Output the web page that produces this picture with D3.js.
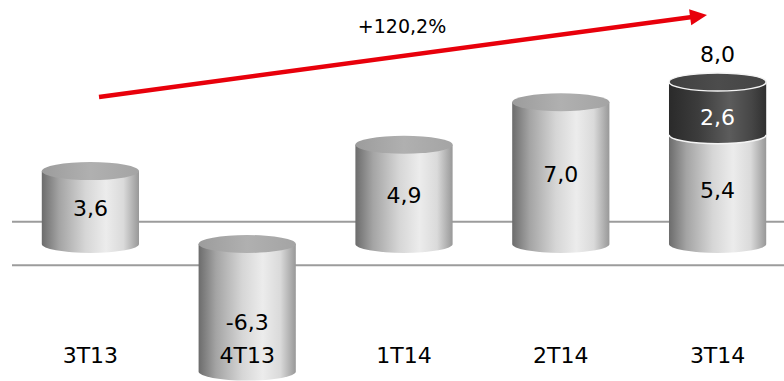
<!DOCTYPE html>
<html>
<head>
<meta charset="utf-8">
<script src="https://cdn.jsdelivr.net/npm/d3@7"></script>
<style>
  html, body { margin: 0; padding: 0; background: #ffffff; }
  svg { display: block; }
  text { font-family: "DejaVu Sans", Verdana, sans-serif; }
</style>
</head>
<body>
<svg id="chart" width="784" height="381"></svg>
<script>
// Quarterly results (R$ bn), 3T14 split into two components
const categories = ["3T13", "4T13", "1T14", "2T14", "3T14"];
const baseValues = [3.6, -6.3, 4.9, 7.0, 5.4];
const extraValues = [0, 0, 0, 0, 2.6];
const totalLabels = ["", "", "", "", "8,0"];
const growthLabel = "+120,2%";

// Brazilian number style: decimal comma, plain hyphen for negatives
const fmt = v => d3.format(".1f")(v).replace(".", ",").replace("\u2212", "-");

const W = 784, H = 381;
const svg = d3.select("#chart");
const defs = svg.append("defs");

const x = d3.scaleBand().domain(categories).range([12, 796])
  .paddingInner(0.38).paddingOuter(0.19);
const y = d3.scaleLinear().domain([0, 8]).range([244, 82]);
const rx = x.bandwidth() / 2;
const ry = 9;

// Cylinder shading
function hGrad(id, stops) {
  const g = defs.append("linearGradient").attr("id", id)
    .attr("x1", "0%").attr("x2", "100%").attr("y1", "0%").attr("y2", "0%");
  stops.forEach(([o, c]) => g.append("stop").attr("offset", o).attr("stop-color", c));
}
hGrad("bodyLight", [["0%", "#6c6c6c"], ["18%", "#a4a4a4"], ["45%", "#d6d6d6"], ["66%", "#ececec"], ["84%", "#dadada"], ["100%", "#989898"]]);
hGrad("topLight", [["0%", "#9c9c9c"], ["50%", "#b0b0b0"], ["100%", "#a4a4a4"]]);
hGrad("bodyDark", [["0%", "#2a2a2a"], ["30%", "#3c3c3c"], ["62%", "#5c5c5c"], ["85%", "#464646"], ["100%", "#303030"]]);
hGrad("topDark", [["0%", "#404040"], ["50%", "#4c4c4c"], ["100%", "#444444"]]);

// Horizontal rules behind the cylinders
const rules = [1.1, -1.05];
svg.selectAll("line.rule").data(rules).join("line")
  .attr("class", "rule")
  .attr("x1", 12).attr("x2", W)
  .attr("y1", d => y(d)).attr("y2", d => y(d))
  .attr("stroke", "#9c9c9c").attr("stroke-width", 2);

// Draw one cylinder segment between two values
function cylinder(g, cx, v0, v1, dark, drawTop) {
  const yTop = Math.min(y(v0), y(v1));
  const yBot = Math.max(y(v0), y(v1));
  const body = dark ? "url(#bodyDark)" : "url(#bodyLight)";
  g.append("path")
    .attr("d", `M${cx - rx},${yTop} L${cx - rx},${yBot} A${rx},${ry} 0 0 0 ${cx + rx},${yBot} L${cx + rx},${yTop} Z`)
    .attr("fill", body);
  if (drawTop) {
    g.append("ellipse").attr("cx", cx).attr("cy", yTop).attr("rx", rx).attr("ry", ry)
      .attr("fill", dark ? "url(#topDark)" : "url(#topLight)")
      .attr("stroke", dark ? "#f4f4f4" : "none").attr("stroke-width", dark ? 1.5 : 0);
  }
}

const bars = svg.append("g");
categories.forEach((c, i) => {
  const cx = x(c) + rx;
  const g = bars.append("g");
  const b = baseValues[i], e = extraValues[i];
  if (b < 0) {
    cylinder(g, cx, b, 0, false, true);
  } else {
    cylinder(g, cx, 0, b, false, e === 0);
    if (e > 0) {
      cylinder(g, cx, b, b + e, true, true);
      // seam between the two segments
      g.append("path")
        .attr("d", `M${cx - rx},${y(b)} A${rx},${ry} 0 0 0 ${cx + rx},${y(b)}`)
        .attr("fill", "none").attr("stroke", "#f4f4f4").attr("stroke-width", 1.5);
    }
  }
});

// Value labels
const labelY = 355;
const fs = 22;
categories.forEach((c, i) => {
  const cx = x(c) + rx;
  const b = baseValues[i], e = extraValues[i];
  const by = b < 0 ? labelY - 33 : (y(0) + y(b)) / 2 + 1;
  svg.append("text").attr("x", cx).attr("y", by).attr("dy", "0.36em")
    .attr("text-anchor", "middle").attr("font-size", fs).attr("fill", "#000")
    .text(fmt(b));
  if (e > 0) {
    svg.append("text").attr("x", cx).attr("y", (y(b) + y(b + e)) / 2 + 9).attr("dy", "0.36em")
      .attr("text-anchor", "middle").attr("font-size", fs).attr("fill", "#ffffff")
      .text(fmt(e));
  }
  if (totalLabels[i]) {
    svg.append("text").attr("x", cx).attr("y", y(b + e) - ry - 19).attr("dy", "0.36em")
      .attr("text-anchor", "middle").attr("font-size", fs).attr("fill", "#000")
      .text(totalLabels[i]);
  }
});

// Category labels
svg.selectAll("text.cat").data(categories).join("text")
  .attr("class", "cat")
  .attr("x", d => x(d) + rx).attr("y", labelY).attr("dy", "0.36em")
  .attr("text-anchor", "middle").attr("font-size", fs).attr("fill", "#000")
  .text(d => d);

// Growth arrow
const a0 = [99, 97], a1 = [707, 15];
const ang = Math.atan2(a1[1] - a0[1], a1[0] - a0[0]);
const headLen = 17, headHalf = 8;
const base = [a1[0] - headLen * Math.cos(ang), a1[1] - headLen * Math.sin(ang)];
svg.append("line")
  .attr("x1", a0[0]).attr("y1", a0[1]).attr("x2", base[0] + 2 * Math.cos(ang)).attr("y2", base[1] + 2 * Math.sin(ang))
  .attr("stroke", "#e8000b").attr("stroke-width", 4.5);
svg.append("path")
  .attr("d", d3.line()([
    a1,
    [base[0] - headHalf * Math.sin(ang), base[1] + headHalf * Math.cos(ang)],
    [base[0] + headHalf * Math.sin(ang), base[1] - headHalf * Math.cos(ang)]
  ]) + "Z")
  .attr("fill", "#e8000b");
svg.append("text").attr("x", 402).attr("y", 26).attr("dy", "0.36em")
  .attr("text-anchor", "middle").attr("font-size", 19).attr("fill", "#000")
  .text(growthLabel);
</script>
</body>
</html>
